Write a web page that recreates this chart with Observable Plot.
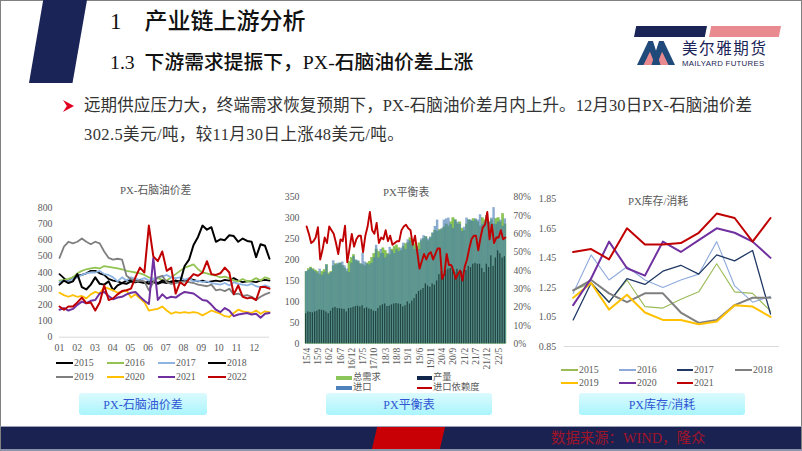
<!DOCTYPE html>
<html>
<head>
<meta charset="utf-8">
<script src="https://cdn.jsdelivr.net/npm/d3@7"></script>
<script src="https://cdn.jsdelivr.net/npm/@observablehq/plot@0.6"></script>
<style>
html,body{margin:0;padding:0;background:#fff}
#page{position:relative;width:802px;height:451px;overflow:hidden;background:#fff;font-family:"Liberation Serif","Noto Sans CJK SC",serif;color:#222}
#page *{box-sizing:border-box}
.abs{position:absolute}
.txt{position:absolute;white-space:nowrap;line-height:1}
.plot{position:absolute;overflow:visible}
.plot text{font-family:"Liberation Serif","Noto Sans CJK SC",serif}
.btn{position:absolute;top:393px;height:22px;border-radius:3px;background:linear-gradient(#dcfafd,#a9f5fd);color:#2f55d4;font-size:12px;display:flex;align-items:center;justify-content:center}
</style>
</head>
<body>
<div id="page"></div>
<script>
// ---- texts
const heading1 = "1\u00a0\u00a0\u00a0\u00a0产业链上游分析";
const heading2 = "1.3\u00a0\u00a0下游需求提振下\uFF0CPX-石脑油价差上涨";
const bulletLine1 = "远期供应压力大\uFF0C终端需求恢复预期下\uFF0CPX-石脑油价差月内上升。12月30日PX-石脑油价差";
const bulletLine2 = "302.5美元/吨\uFF0C较11月30日上涨48美元/吨。";
const sourceNote = "数据来源\uFF1AWIND\uFF0C隆众";
const chartTitles = ["PX-石脑油价差", "PX平衡表", "PX库存/消耗"];

// ---- chart 1: PX-naphtha spread, four readings per month
const monthLabels = ["01","02","03","04","05","06","07","08","09","10","11","12"];
const spread2015 = [390,365,345,370,380,385,395,410,410,395,385,360,350,345,335,350,355,350,340,335,345,340,330,340,335,345,350,345,350,360,355,345,350,340,345,350,345,355,350,365,350,340,345,345,340,350,355,350];
const spread2016 = [350,355,360,370,395,410,420,425,430,425,440,435,430,425,420,410,405,400,395,385,370,360,365,355,350,370,390,410,430,440,450,420,400,395,385,380,370,375,365,350,345,360,345,350,365,350,370,360];
const spread2017 = [340,350,345,360,370,385,395,400,400,410,390,385,370,345,370,350,370,360,355,365,350,360,370,375,385,370,365,370,355,365,345,350,340,345,335,330,325,335,320,340,330,325,320,330,315,310,320,310];
const spread2018 = [325,350,335,345,390,310,295,325,370,330,325,345,290,320,335,330,345,340,350,340,330,345,335,350,345,340,350,340,440,480,570,620,690,665,680,590,605,600,630,625,590,610,595,590,495,575,565,485];
const spread2019 = [490,560,590,580,590,610,590,575,590,580,530,490,480,485,480,380,360,345,350,345,290,340,370,380,340,330,335,340,345,340,335,325,320,315,325,290,295,285,300,265,270,255,260,250,230,250,265,275];
const spread2020 = [275,260,250,260,250,255,240,265,280,270,310,300,290,275,280,290,245,265,240,215,165,170,175,190,165,145,155,150,155,150,155,150,135,150,165,155,145,130,125,150,170,160,155,150,165,145,160,155];
const spread2021 = [170,180,165,175,200,220,210,225,230,270,280,255,235,245,250,265,275,280,250,225,205,490,230,265,240,250,245,265,280,275,270,250,230,225,200,170,155,180,165,130,140,145,150,140,145,120,145,150];
const spread2022 = [190,170,190,190,215,245,210,215,165,215,320,230,240,265,285,290,300,370,430,400,690,500,470,530,410,430,270,340,320,360,390,380,400,470,390,385,395,430,400,265,320,250,240,245,230,310,310,300];
const spreadYears = ["2015","2016","2017","2018","2019","2020","2021","2022"];
const spreadSeries = [spread2015,spread2016,spread2017,spread2018,spread2019,spread2020,spread2021,spread2022];
const spreadColors = ["#000000","#92c353","#8db4e2","#000000","#7f7f7f","#ffc000","#7030a0","#c00000"];
const spreadWidths = [1.8,1.8,1.8,2,1.8,1.8,2,2];
const spreadTicks = [0,100,200,300,400,500,600,700,800];

// ---- chart 2: PX balance, monthly from 15/4
const balanceTickLabels = ["15/4","15/9","16/2","16/7","16/12","17/5","17/10","18/3","18/8","19/1","19/6","19/11","20/4","20/9","21/2","21/7","21/12","22/5"];
const balanceTicks = [0,5,10,15,20,25,30,35,40,45,50,55,60,65,70,75,80,85];
const totalDemand = [172,178,182,178,175,172,165,172,176,188,168,172,185,190,188,192,186,180,172,196,205,212,198,195,190,188,185,192,196,205,215,225,220,215,228,222,215,212,225,232,235,228,222,232,238,240,252,245,238,232,240,245,250,255,245,252,262,270,268,272,272,278,285,280,290,300,295,285,290,275,270,285,295,292,298,295,290,280,300,295,305,290,295,285,298,300,290,310,285];
const production = [72,76,75,74,76,78,81,80,79,76,72,78,85,87,84,84,83,82,76,84,85,87,89,90,88,91,84,86,83,82,78,77,84,90,93,95,89,90,93,95,96,95,94,88,91,100,95,102,108,118,125,128,132,143,138,135,143,140,150,165,172,165,175,178,180,185,170,178,165,172,165,175,185,182,190,192,190,190,180,170,190,182,210,185,205,222,215,205,208];
const imports = [172,175,180,176,172,168,178,163,170,188,165,170,198,188,192,192,195,186,178,170,192,208,200,198,190,216,195,190,188,192,205,235,205,225,215,205,212,230,222,215,225,220,228,240,225,248,245,235,225,232,225,250,258,255,250,255,265,280,295,270,275,295,298,300,285,275,295,290,285,268,278,300,295,295,292,298,295,308,285,290,305,290,300,325,285,290,295,280,298];
const importDependence = [64,60,55,56,58,63.6,46,51,58,55,64,62,60,55,49,57,56,64.5,44.5,52,60,53,57,59,59,50,59,64,72,62,60,66,55,58,57,62,56,59,54,55,56,56,62,64,65,63,62,54,59,50,41,45,49,46,49,50,46,49,52,52,35.5,38,49,43,43,40,35.5,38,40,34.5,42,46,52,57,59,59,51,58,63.6,65,72,57,65,55,58,58,62,57,58];
const balanceLeftTicks = [0,50,100,150,200,250,300,350];
const balanceRightTicks = [0,10,20,30,40,50,60,70,80];

// ---- chart 3: PX stock / consumption, twelve months
const ratio2015 = [1.23,1.28,1.15,1.30,1.12,1.11,1.17,1.22,1.41,1.22,1.21,1.09];
const ratio2016 = [1.21,1.47,1.30,1.39,1.30,1.25,1.30,1.34,1.56,1.26,1.15,1.19];
const ratio2017 = [1.03,1.28,1.15,1.31,1.27,1.36,1.40,1.34,1.47,1.43,1.50,1.07];
const ratio2018 = [1.23,1.30,1.21,1.15,1.21,1.21,1.08,1.01,1.03,1.13,1.18,1.18];
const ratio2019 = [1.18,1.28,1.10,1.20,1.08,1.03,1.03,1.00,1.02,1.13,1.12,1.05];
const ratio2020 = [1.13,1.31,1.56,1.38,1.33,1.56,1.49,1.57,1.65,1.62,1.56,1.45];
const ratio2021 = [1.49,1.51,1.44,1.65,1.54,1.54,1.55,1.62,1.75,1.72,1.56,1.72];
const ratioYears = ["2015","2016","2017","2018","2019","2020","2021"];
const ratioSeries = [ratio2015,ratio2016,ratio2017,ratio2018,ratio2019,ratio2020,ratio2021];
const ratioColors = ["#9bbb59","#8eaadb","#1f3864","#7f7f7f","#ffc000","#7030a0","#c00000"];
const ratioWidths = [1.1,1.1,1.3,2,2,2,2];
const ratioTicks = [0.85,1.05,1.25,1.45,1.65,1.85];

// ---- page helpers
const page = document.getElementById("page");
function box(css, html){const d=document.createElement("div");d.className="abs";d.style.cssText+=";"+css;if(html)d.innerHTML=html;page.appendChild(d);return d;}
function text(str,left,cy,size,css){const d=document.createElement("div");d.className="txt";d.textContent=str;d.style.cssText+=`;left:${left}px;top:${cy-size/2}px;font-size:${size}px;${css||""}`;page.appendChild(d);return d;}
function place(svg,left,top){svg.classList.add("plot");svg.style.left=left+"px";svg.style.top=top+"px";svg.style.background="transparent";page.appendChild(svg);}
function legendEntry(label,x0,x1,y,color,thick,size){
  box(`left:${x0}px;top:${y-thick/2}px;width:${x1-x0}px;height:${thick}px;background:${color}`);
  text(label,x1+1,y,size||9.8,"color:#595959");
}

// ---- slide furniture
box("left:0;top:0;width:802px;height:451px;border:1px solid #808080;border-bottom:none");
box("left:29px;top:0;width:58px;height:83px;background:#1a2456;clip-path:polygon(24.5% 0,100% 0,75% 100%,0 100%)");
text(heading1,110,21,23,"color:#111;font-weight:500");
text(heading2,110,63,19.8,"color:#111;font-weight:500");
box("left:63px;top:100px;width:11px;height:12px;background:#e00020;clip-path:polygon(0 0,100% 50%,0 100%,35% 50%)");
text(bulletLine1,84,106,16.5,"color:#333;letter-spacing:.1px");
text(bulletLine2,84,135,16.5,"color:#333;letter-spacing:.4px");

// logo
box("left:634px;top:26px;width:73px;height:11px;background:#1a2456;clip-path:polygon(3% 0,100% 0,97% 100%,0 100%)");
box("left:709px;top:26px;width:72px;height:11px;background:#e88a90;clip-path:polygon(3% 0,100% 0,97% 100%,0 100%)");
box("left:637px;top:41px;width:38px;height:24px;background:#e88a90;clip-path:polygon(30% 0,50% 50%,70% 0,90% 100%,10% 100%)");
box("left:637px;top:41px;width:38px;height:24px;background:#1f4a7a;clip-path:polygon(0 100%,30% 0,42% 0,62% 100%,48% 100%,34% 45%,17% 100%)");
box("left:637px;top:41px;width:38px;height:24px;background:#1f4a7a;clip-path:polygon(100% 100%,70% 0,58% 0,38% 100%,52% 100%,66% 45%,83% 100%)");
text("美尔雅期货",682,48,15.5,'color:#1a2456;font-family:"Noto Sans CJK SC";letter-spacing:1.6px');
text("MAILYARD FUTURES",682,63.5,7.8,'color:#1a2456;font-family:"Liberation Sans";letter-spacing:.3px');

// footer
box("left:1px;top:427px;width:800px;height:22px;background:#1a2251");
box("left:0;top:449px;width:802px;height:2px;background:#8d93a8");
box("left:0;top:425.5px;width:802px;height:1.5px;background:#9aa0b8");
box("left:372px;top:427px;width:73px;height:22px;background:#c80006;clip-path:polygon(7% 0,100% 0,93% 100%,0 100%)");
text(sourceNote,551,438,14.4,"color:#a0142a");

// buttons
[[79,128],[326,166],[579,166]].forEach(([l,w],i)=>{
  const b=box(`left:${l}px;width:${w}px`);b.className="btn";b.textContent=chartTitles[i];
});

// ---- chart 1
{
  const rows = spreadSeries.flatMap((vals,s)=>vals.map((v,i)=>({i:i*11.86/47,v,s})));
  const svg = Plot.plot({
    width:280,height:190,marginLeft:59,marginRight:11,marginTop:37.3,marginBottom:23.3,
    style:{background:"transparent"},
    x:{type:"linear",domain:[0,11.86],axis:null},
    y:{domain:[0,800],axis:null},
    marks:[
      Plot.ruleY([0],{stroke:"#d9d9d9"}),
      Plot.axisX(d3.range(12),{anchor:"bottom",label:null,tickSize:0,tickPadding:7,tickFormat:d=>monthLabels[d],fontSize:9.8,color:"#595959"}),
      Plot.axisY(spreadTicks,{anchor:"left",label:null,tickSize:0,tickPadding:7,tickFormat:d=>d,fontSize:9.8,color:"#595959"}),
      ...spreadSeries.map((_,s)=>Plot.line(rows.filter(r=>r.s===s),{x:"i",y:"v",stroke:spreadColors[s],strokeWidth:spreadWidths[s],curve:"linear"}))
    ]
  });
  place(svg,0,170);
  text(chartTitles[0],120,190,10.8,"color:#595959");
  const xs=[[56,73],[107,124],[158,175],[208,226]];
  spreadYears.forEach((y,i)=>legendEntry(y,xs[i%4][0],xs[i%4][1],i<4?363:377,spreadColors[i],2,9.8));
}

// ---- chart 2
{
  const rows = totalDemand.map((t,i)=>({i,t,p:production[i],m:imports[i],d:importDependence[i]}));
  const barPlot = Plot.plot({
    width:270,height:220,marginLeft:35,marginRight:34,marginTop:26.7,marginBottom:46.7,
    style:{background:"transparent"},
    x:{type:"band",domain:d3.range(89),padding:0,round:false,axis:null},
    y:{domain:[0,350],axis:null},
    marks:[
      Plot.barY(rows,{x:"i",y:"t",fill:"#86c254",stroke:"#86c254",strokeWidth:0.5}),
      Plot.barY(rows,{x:"i",y:"m",fill:"#467ab5",fillOpacity:0.62,stroke:"#467ab5",strokeOpacity:0.25,strokeWidth:0.3}),
      Plot.barY(rows,{x:"i",y:"p",fill:"#0f2f2c",fillOpacity:0.78,insetRight:1}),
      Plot.axisX(balanceTicks,{anchor:"bottom",label:null,tickSize:0,tickPadding:4,tickRotate:-90,tickFormat:d=>balanceTickLabels[balanceTicks.indexOf(d)],fontSize:9.5,color:"#595959"}),
      Plot.axisY(balanceLeftTicks,{anchor:"left",label:null,tickSize:0,tickPadding:6,tickFormat:d=>d,fontSize:9.8,color:"#595959"})
    ]
  });
  place(barPlot,270,170);
  const linePlot = Plot.plot({
    width:270,height:220,marginLeft:35,marginRight:34,marginTop:26.7,marginBottom:46.7,
    style:{background:"transparent"},
    x:{type:"linear",domain:[-0.5,88.5],axis:null},
    y:{domain:[0,80],axis:null},
    marks:[
      Plot.line(rows,{x:"i",y:"d",stroke:"#c00000",strokeWidth:1.9,curve:"linear"}),
      Plot.axisY(balanceRightTicks,{anchor:"right",label:null,tickSize:0,tickPadding:7,tickFormat:d=>d+"%",fontSize:9.5,color:"#595959"})
    ]
  });
  place(linePlot,270,170);
  text(chartTitles[1],383,192,10.8,"color:#595959");
  legendEntry("总需求",336,352,378,"#8cc65a",4,9.3);
  legendEntry("产量",417,432,378,"#10264a",4,9.3);
  legendEntry("进口",336,352,388,"#4f81bd",4,9.3);
  legendEntry("进口依赖度",417,432,388,"#c00000",2,9.3);
}

// ---- chart 3
{
  const rows = ratioSeries.flatMap((vals,s)=>vals.map((v,i)=>({i,v,s})));
  const svg = Plot.plot({
    width:272,height:190,marginLeft:33.7,marginRight:23,marginTop:28.3,marginBottom:14,
    style:{background:"transparent"},
    x:{type:"linear",domain:[-0.5,11.5],axis:null},
    y:{domain:[0.85,1.85],axis:null},
    marks:[
      Plot.ruleY([0.85],{stroke:"#d9d9d9"}),
      Plot.axisY(ratioTicks,{anchor:"left",label:null,tickSize:0,tickPadding:8,tickFormat:d=>d.toFixed(2),fontSize:10,color:"#595959"}),
      ...ratioSeries.map((_,s)=>Plot.line(rows.filter(r=>r.s===s),{x:"i",y:"v",stroke:ratioColors[s],strokeWidth:ratioWidths[s],curve:"linear"}))
    ]
  });
  place(svg,530,170);
  text(chartTitles[2],628,201,10.8,"color:#595959");
  const xs=[[561,578],[619,636],[677,693],[735,752]];
  ratioYears.forEach((y,i)=>legendEntry(y,xs[i%4][0],xs[i%4][1],i<4?370:383,ratioColors[i],Math.max(1,ratioWidths[i]),9.8));
}
</script>
</body>
</html>
